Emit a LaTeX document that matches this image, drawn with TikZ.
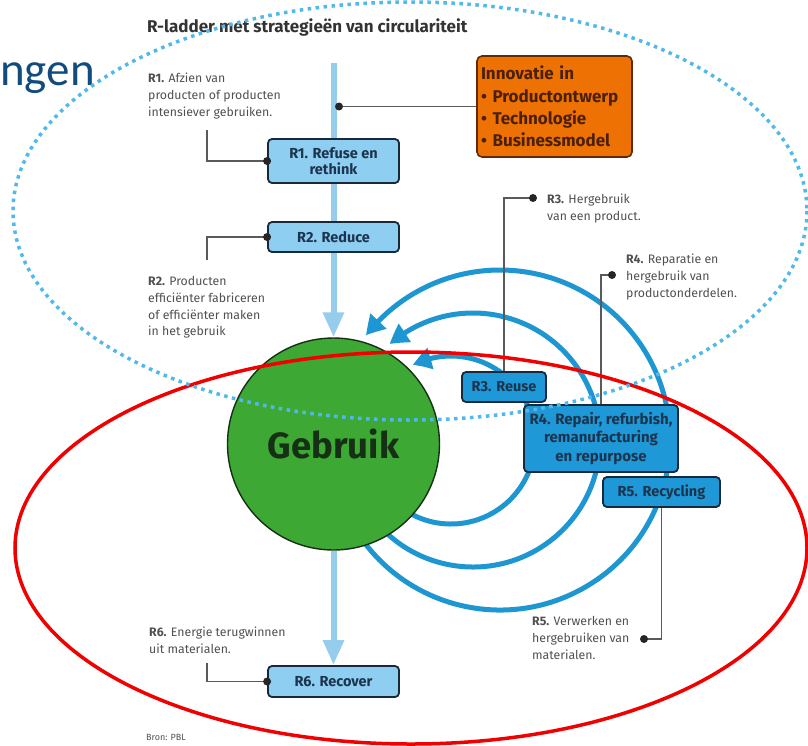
\documentclass[tikz,border=0pt]{standalone}
\usepackage{fontspec}
\setmainfont{Fira Sans}
\newfontfamily\calib{Carlito}
\usetikzlibrary{arrows.meta,bending}
\definecolor{paleblue}{RGB}{150,205,237}
\definecolor{lightbox}{RGB}{142,206,240}
\definecolor{darkbox}{RGB}{30,152,214}
\definecolor{boxline}{RGB}{22,42,60}
\definecolor{boxtext}{RGB}{28,52,78}
\definecolor{arcblue}{RGB}{30,150,210}
\definecolor{orangefill}{RGB}{238,114,3}
\definecolor{orangeline}{RGB}{95,42,10}
\definecolor{orangetext}{RGB}{75,32,5}
\definecolor{usegreen}{RGB}{62,168,52}
\definecolor{usetext}{RGB}{22,48,22}
\definecolor{anntext}{RGB}{80,80,80}
\definecolor{connline}{RGB}{90,90,90}
\definecolor{dotblue}{RGB}{80,185,235}
\definecolor{ngenblue}{RGB}{18,75,125}
\definecolor{redline}{RGB}{240,0,0}
\tikzset{
  rbox/.style={draw=boxline, line width=1.8pt, rounded corners=4pt, align=center,
    text=boxtext, font=\bfseries\fontsize{14.5}{18}\selectfont, inner sep=2pt},
  lbox/.style={rbox, fill=lightbox},
  dbox/.style={rbox, fill=darkbox},
  ann/.style={anchor=north west, inner sep=0pt, align=left, text=anntext,
    font=\fontsize{12.3}{16.8}\selectfont},
  conn/.style={draw=connline, line width=1.2pt},
  dot/.style={fill=black!85},
  pale/.style={draw=paleblue, line width=6pt, -{Triangle[length=25pt,width=20pt]}},
  arcline/.style={draw=arcblue, line width=5pt, -{Triangle[length=19pt,width=21pt,bend]}},
  bluedots/.style={draw=dotblue, line width=3.5pt, dash pattern=on 3.5pt off 4.5pt},
  redring/.style={draw=redline, line width=3.5pt}
}
\begin{document}
\begin{tikzpicture}[x=1pt,y=-1pt]
\useasboundingbox (0,0) rectangle (808,745);

% partial heading word
\node[anchor=base west, inner sep=0pt, text=ngenblue, font=\calib\fontsize{47}{54}\selectfont] (ngen) at (0,85) {ngen};

% title
\node[anchor=base west, inner sep=0pt, text=black!80, font=\bfseries\fontsize{17}{19}\selectfont] (title) at (147,32) {R-ladder met strategieën van circulariteit};

% arcs (behind circle and boxes)
\coordinate (ca) at (451,440);
\coordinate (cb) at (473,440);
\coordinate (cc) at (500,440);
\draw[arcline] (ca) ++(125:84) arc[start angle=125, end angle=-117, radius=84];
\draw[arcline] (cb) ++(140:127) arc[start angle=140, end angle=-131, radius=127];
\draw[arcline] (cc) ++(150:170) arc[start angle=150, end angle=-142, radius=170];

% central circle
\node[circle, draw=usetext, line width=1.4pt, fill=usegreen, minimum size=212pt, inner sep=0pt,
  text=usetext, font=\bfseries\fontsize{36.5}{42}\selectfont] (use) at (333.5,444) {Gebruik};

% vertical pale arrows
\coordinate (top) at (333.5,63);
\draw[pale] (top) -- (use.north);

% boxes on the ladder
\node[lbox, minimum width=131pt, minimum height=44pt] (r1) at (333.5,161) {R1. Refuse en\\[-2pt]rethink};
\node[lbox, minimum width=131pt, minimum height=30pt] (r2) at (333.5,237) {R2. Reduce};
\node[lbox, minimum width=131pt, minimum height=31pt] (r6) at (333.5,681.5) {R6. Recover};
\draw[pale] (use.south) -- (r6.north);

% innovation box
\node[draw=orangeline, fill=orangefill, line width=1.6pt, rounded corners=5pt, minimum width=155pt,
  minimum height=101pt, text=orangetext, align=left, text width=147pt, inner sep=4pt,
  font=\bfseries\fontsize{17}{22.3}\selectfont] (innov) at (554.5,106.5)
  {Innovatie in\\• Productontwerp\\• Technologie\\• Businessmodel};
\coordinate (d0) at (339,106.5);
\draw[conn] (d0) -- (innov.west);
\fill[dot] (d0) circle (4);

% R1 annotation
\node[ann] (t1) at (148,73) {\textbf{R1.} Afzien van\\producten of producten\\intensiever gebruiken.};
\coordinate (c1) at (207,130);
\draw[conn] (c1) |- (r1.west);
\fill[dot] (r1.west) circle (4);

% R2 annotation
\node[ann] (t2) at (148,276) {\textbf{R2.} Producten\\efficiënter fabriceren\\of efficiënter maken\\in het gebruik};
\coordinate (c2) at (207,260);
\draw[conn] (c2) |- (r2.west);
\fill[dot] (r2.west) circle (4);

% R6 annotation
\node[ann] (t6) at (149,627) {\textbf{R6.} Energie terugwinnen\\uit materialen.};
\coordinate (c6) at (207,663);
\draw[conn] (c6) |- (r6.west);
\fill[dot] (r6.west) circle (4);

% R3, R4, R5 boxes
\node[dbox, minimum width=84pt, minimum height=30pt] (r3) at (504,387) {R3. Reuse};
\node[dbox, minimum width=154pt, minimum height=67pt, inner sep=1pt, font=\bfseries\fontsize{15}{18.5}\selectfont] (r4) at (601,438.5) {R4. Repair, refurbish,\\remanufacturing\\en repurpose};
\node[dbox, minimum width=117pt, minimum height=30pt] (r5) at (661.5,492) {R5. Recycling};

% R3 annotation
\node[ann] (t3) at (547,194) {\textbf{R3.} Hergebruik\\van een product.};
\coordinate (c3) at (533,198);
\draw[conn] (r3.north) |- (c3);
\fill[dot] (c3) circle (4);

% R4 annotation
\node[ann] (t4) at (626,254) {\textbf{R4.} Reparatie en\\hergebruik van\\productonderdelen.};
\coordinate (c4) at (612,275);
\draw[conn] (r4.north) |- (c4);
\fill[dot] (c4) circle (4);

% R5 annotation
\node[ann] (t5) at (532,616) {\textbf{R5.} Verwerken en\\hergebruiken van\\materialen.};
\coordinate (c5) at (644,639);
\draw[conn] (r5.south) |- (c5);
\fill[dot] (c5) circle (4);

% source
\node[anchor=base west, inner sep=0pt, text=anntext, font=\fontsize{9}{10}\selectfont] (src) at (146,740) {Bron: PBL};

% overlay ellipses
\draw[redring] (411,548) ellipse [x radius=396, y radius=196];
\draw[bluedots] (410,211) ellipse [x radius=397, y radius=209];
\end{tikzpicture}
\end{document}
